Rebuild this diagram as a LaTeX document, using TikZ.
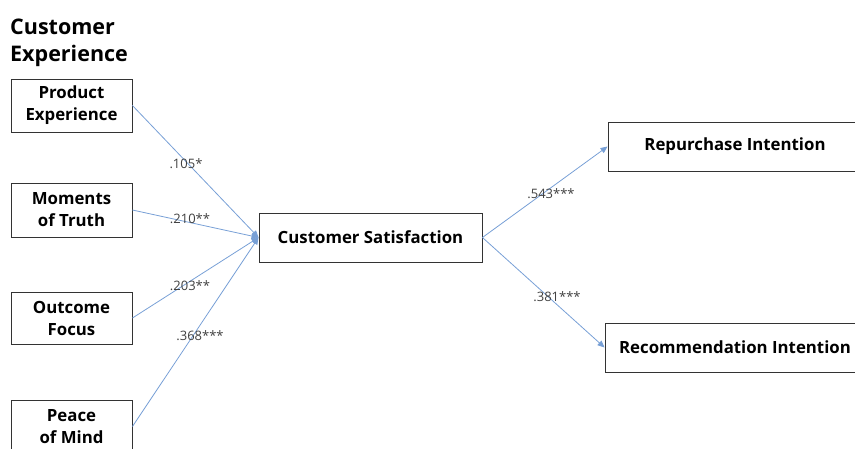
\documentclass[tikz,border=0pt]{standalone}
\usepackage{fontspec}
\setmainfont{Open Sans}
\usetikzlibrary{arrows.meta}
\definecolor{arrowblue}{RGB}{120,160,214}
\definecolor{labgray}{RGB}{64,64,64}
\tikzset{
  box/.style={draw=black!80, line width=0.9pt, fill=white, inner sep=0pt, align=center,
    font=\bfseries\fontsize{16.8}{22}\selectfont},
  link/.style={draw=arrowblue, line width=0.8pt, -{Triangle[length=7pt,width=6pt]}},
  coef/.style={font=\fontsize{13}{15}\selectfont, text=labgray, inner sep=0pt},
}
\begin{document}
\begin{tikzpicture}[x=1pt,y=-1pt]
\useasboundingbox (0,0) rectangle (855,448);
\clip (0,0) rectangle (855,448);
\node[anchor=north west, align=left, inner sep=0pt, font=\bfseries\fontsize{21.5}{27}\selectfont] (title) at (10,19) {Customer\\Experience};
\node[box, minimum width=121pt, minimum height=53pt] (pe) at (71.5,105.5) {Product\\Experience};
\node[box, minimum width=121pt, minimum height=54pt] (mt) at (71.5,210) {Moments\\of Truth};
\node[box, minimum width=121pt, minimum height=52pt] (of) at (71.5,318) {Outcome\\Focus};
\node[box, minimum width=121pt, minimum height=53pt] (pm) at (71.5,426.5) {Peace\\of Mind};
\node[box, minimum width=223pt, minimum height=49pt] (cs) at (370.5,237.5) {Customer Satisfaction};
\node[box, minimum width=254pt, minimum height=49pt] (ri) at (735,146.5) {Repurchase Intention};
\node[box, minimum width=260pt, minimum height=49pt] (rec) at (735,347.5) {Recommendation Intention};
\draw[link] (pe.east) -- (cs.west);
\draw[link] (mt.east) -- (cs.west);
\draw[link] (of.east) -- (cs.west);
\draw[link] (pm.east) -- (cs.west);
\draw[link] (cs.east) -- (ri.west);
\draw[link] (cs.east) -- (rec.west);
\node[coef] (c1) at (186,164) {.105*};
\node[coef] (c2) at (190,219) {.210**};
\node[coef] (c3) at (190,286) {.203**};
\node[coef] (c4) at (200,336) {.368***};
\node[coef] (c5) at (551,194) {.543***};
\node[coef] (c6) at (557,297) {.381***};
\end{tikzpicture}
\end{document}
